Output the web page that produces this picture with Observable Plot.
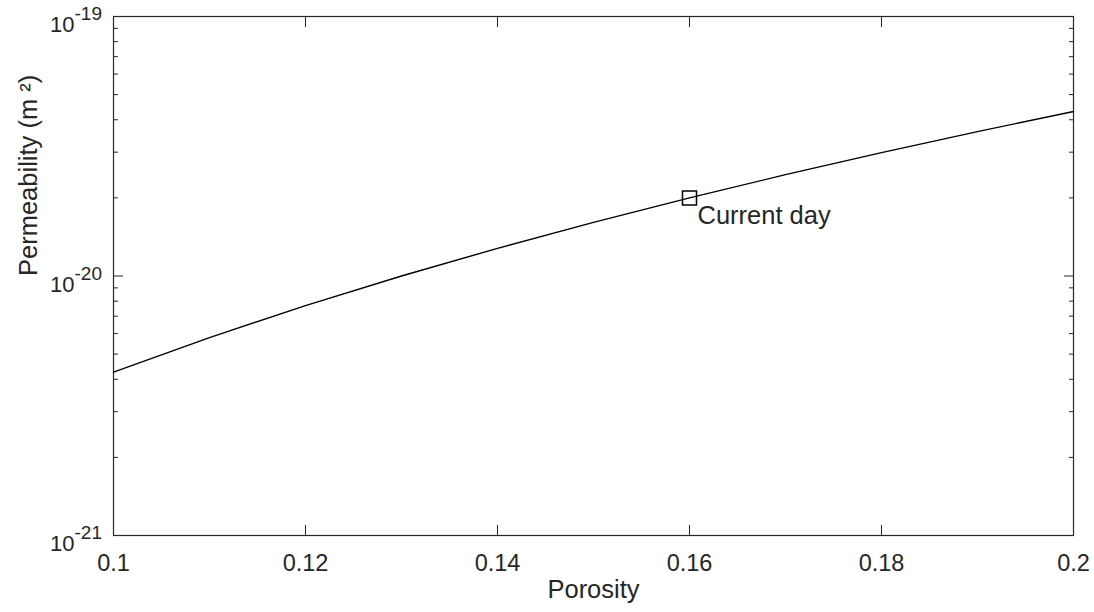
<!DOCTYPE html>
<html>
<head>
<meta charset="utf-8">
<script src="https://cdn.jsdelivr.net/npm/d3@7"></script>
<script src="https://cdn.jsdelivr.net/npm/@observablehq/plot@0.6"></script>
<style>
  html, body { margin: 0; padding: 0; background: #fff; }
  #chart svg { display: block; }
</style>
</head>
<body>
<div id="chart"></div>
<script>
// ---- Data ----
const porosity = [0.10, 0.11, 0.12, 0.13, 0.14, 0.15, 0.16, 0.17, 0.18, 0.19, 0.20];
const permeability = [4.26e-21, 5.79e-21, 7.69e-21, 1.00e-20, 1.278e-20, 1.609e-20, 2.00e-20, 2.457e-20, 2.988e-20, 3.601e-20, 4.306e-20];

const markerPorosity = [0.16];
const markerPermeability = [2.0e-20];
const markerLabel = ["Current day"];

const xTicks = [0.1, 0.12, 0.14, 0.16, 0.18, 0.2];
const xTickLabels = ["0.1", "0.12", "0.14", "0.16", "0.18", "0.2"];
const yMajorTicks = [1e-21, 1e-20, 1e-19];
const yTickBase = ["10", "10", "10"];
const yTickExponents = ["-21", "-20", "-19"];
const yMinorTicks = [2e-21, 3e-21, 4e-21, 5e-21, 6e-21, 7e-21, 8e-21, 9e-21,
                     2e-20, 3e-20, 4e-20, 5e-20, 6e-20, 7e-20, 8e-20, 9e-20];

const xLabel = ["Porosity"];
const yLabel = ["Permeability (m ²)"];

// ---- Build tables ----
const curve = porosity.map((p, i) => ({p, k: permeability[i]}));
const marker = markerPorosity.map((p, i) => ({p, k: markerPermeability[i], label: markerLabel[i]}));

const ink = "#262626";
const font = "'Liberation Sans', Arial, Helvetica, sans-serif";

const chart = Plot.plot({
  width: 1094,
  height: 612,
  marginLeft: 113,
  marginRight: 21,
  marginTop: 16,
  marginBottom: 77,
  style: {fontFamily: font, color: ink, background: "#fff", overflow: "visible"},
  x: {type: "linear", domain: [0.1, 0.2]},
  y: {type: "log", domain: [1e-21, 1e-19]},
  marks: [
    // inward ticks, all four sides
    Plot.axisX(xTicks, {anchor: "bottom", tickSize: -10, tickFormat: () => "", label: null, stroke: ink}),
    Plot.axisX(xTicks, {anchor: "top", tickSize: -10, tickFormat: () => "", label: null, stroke: ink}),
    Plot.axisY(yMajorTicks, {anchor: "left", tickSize: -10, tickFormat: () => "", label: null, stroke: ink}),
    Plot.axisY(yMajorTicks, {anchor: "right", tickSize: -10, tickFormat: () => "", label: null, stroke: ink}),
    Plot.axisY(yMinorTicks, {anchor: "left", tickSize: -5, tickFormat: () => "", label: null, stroke: ink}),
    Plot.axisY(yMinorTicks, {anchor: "right", tickSize: -5, tickFormat: () => "", label: null, stroke: ink}),
    // x tick labels
    Plot.text(xTicks, {x: d => d, frameAnchor: "bottom", text: (d, i) => xTickLabels[i],
      lineAnchor: "top", dy: 19, fontSize: 23.5, fill: ink}),
    // y tick labels 10^n
    Plot.text(yMajorTicks, {y: d => d, frameAnchor: "left", text: (d, i) => yTickBase[i],
      textAnchor: "end", lineAnchor: "top", dx: -39, dy: 0, fontSize: 22, fill: ink}),
    Plot.text(yMajorTicks, {y: d => d, frameAnchor: "left", text: (d, i) => yTickExponents[i],
      textAnchor: "start", lineAnchor: "top", dx: -39, dy: -10, fontSize: 19, fill: ink}),
    // axis labels
    Plot.text(xLabel, {frameAnchor: "bottom", text: d => d, dy: 62, fontSize: 25.5, fill: ink}),
    Plot.text(yLabel, {frameAnchor: "left", text: d => d, dx: -85, rotate: -90, fontSize: 25.5, fill: ink}),
    // frame
    Plot.frame({stroke: ink, strokeWidth: 1.2}),
    // data
    Plot.line(curve, {x: "p", y: "k", stroke: "#000", strokeWidth: 1.4}),
    Plot.dot(marker, {x: "p", y: "k", symbol: "square", r: 7.9, stroke: "#000", fill: "none", strokeWidth: 1.5}),
    Plot.text(marker, {x: "p", y: "k", text: "label", textAnchor: "start", dx: 8, dy: 18, fontSize: 25.5, fill: ink})
  ]
});

document.getElementById("chart").appendChild(chart);
</script>
</body>
</html>
